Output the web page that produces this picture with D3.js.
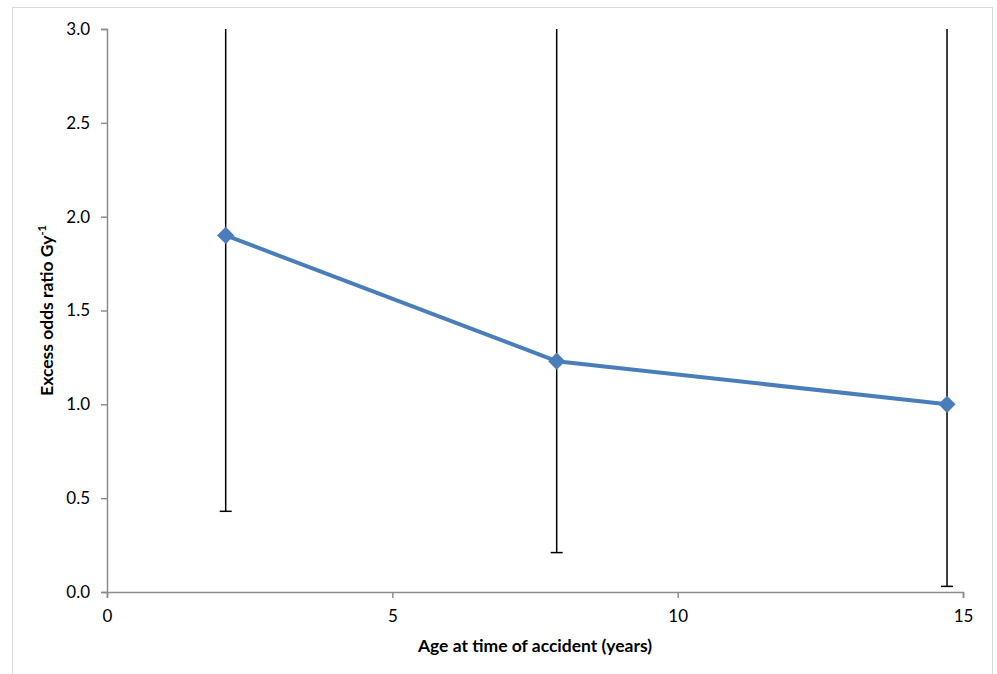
<!DOCTYPE html>
<html><head><meta charset="utf-8">
<script src="https://cdn.jsdelivr.net/npm/d3@7"></script>
<style>body{margin:0;background:#fff;} text{font-family:Lato,"Open Sans",sans-serif;}</style>
</head><body><svg id="c" width="997" height="674"></svg>
<script>
const ages = [2.08, 7.88, 14.72];
const eor = [1.90, 1.23, 1.00];
const lower = [0.43, 0.21, 0.03];
const upper = [3.6, 3.9, 4.2];
const xTicks = [0, 5, 10, 15];
const yTicks = [0, 0.5, 1.0, 1.5, 2.0, 2.5, 3.0];

const svg = d3.select("#c");
svg.append("rect").attr("x",12.5).attr("y",7.5).attr("width",980).attr("height",700)
  .attr("fill","none").attr("stroke","#d9d9d9");
const m = {l:107, r:963, t:29, b:592};
const x = d3.scaleLinear().domain([0,15]).range([m.l,m.r]);
const y = d3.scaleLinear().domain([0,3]).range([m.b,m.t]);

const xa = svg.append("g").attr("transform",`translate(0,${m.b})`)
  .call(d3.axisBottom(x).tickValues(xTicks).tickFormat(d3.format("d")).tickSizeOuter(0).tickSize(6));
const ya = svg.append("g").attr("transform",`translate(${m.l},0)`)
  .call(d3.axisLeft(y).tickValues(yTicks).tickFormat(d3.format(".1f")).tickSizeOuter(0).tickSize(6));
[xa,ya].forEach(g=>{
  g.selectAll("path,line").attr("stroke","#8c8c8c").attr("stroke-width",1.5);
  g.selectAll("text").attr("fill","#000").attr("font-size",17);
});
xa.selectAll("text").attr("dy","1.25em");
ya.selectAll("text").attr("dx","-8");

const clip = svg.append("clipPath").attr("id","pc").append("rect")
  .attr("x",m.l).attr("y",m.t).attr("width",m.r-m.l+20).attr("height",m.b-m.t);
const eb = svg.append("g").attr("clip-path","url(#pc)");
ages.forEach((a,i)=>{
  eb.append("line").attr("x1",x(a)).attr("x2",x(a)).attr("y1",y(lower[i])).attr("y2",y(upper[i]))
    .attr("stroke","#000").attr("stroke-width",1.5);
  eb.append("line").attr("x1",x(a)-6).attr("x2",x(a)+6).attr("y1",y(lower[i])).attr("y2",y(lower[i]))
    .attr("stroke","#000").attr("stroke-width",1.5);
});

const line = d3.line().x((d,i)=>x(ages[i])).y(d=>y(d));
svg.append("path").datum(eor).attr("d",line).attr("fill","none")
  .attr("stroke","#4a7ebb").attr("stroke-width",4).attr("stroke-linejoin","round");
svg.selectAll(".mk").data(eor).enter().append("path")
  .attr("d",d3.symbol().type(d3.symbolDiamond2).size(190))
  .attr("transform",(d,i)=>`translate(${x(ages[i])},${y(d)})`)
  .attr("fill","#4a7ebb");

svg.append("text").attr("x",535).attr("y",652).attr("text-anchor","middle")
  .attr("font-size",17.5).attr("font-weight","bold").text("Age at time of accident (years)");
const yl = svg.append("text").attr("transform",`translate(53,${(m.t+m.b)/2}) rotate(-90)`)
  .attr("text-anchor","middle").attr("font-size",17.5).attr("font-weight","bold");
yl.append("tspan").text("Excess odds ratio Gy");
yl.append("tspan").attr("dy",-7).attr("font-size",11).text("-1");
</script></body></html>
